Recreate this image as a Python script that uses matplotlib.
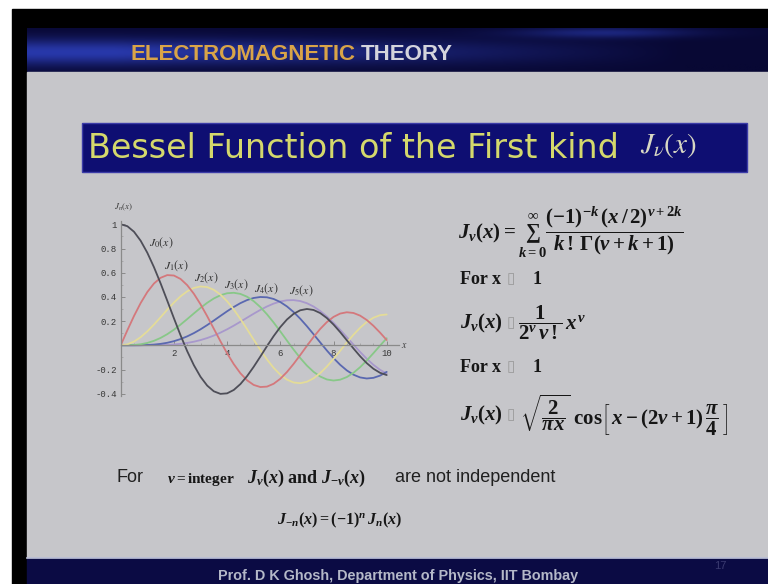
import numpy as np
import matplotlib
matplotlib.use('Agg')
import matplotlib.pyplot as plt
from matplotlib.patches import Rectangle

plt.rcParams['mathtext.fontset'] = 'custom'
plt.rcParams['mathtext.rm'] = 'Liberation Serif:bold'
plt.rcParams['mathtext.it'] = 'Liberation Serif:italic:bold'
plt.rcParams['mathtext.bf'] = 'Liberation Serif:bold'

# J_0 ... J_5 sampled every 0.25 on [0, 10]
x_vals = [0.0, 0.25, 0.5, 0.75, 1.0, 1.25, 1.5, 1.75, 2.0, 2.25, 2.5, 2.75, 3.0, 3.25,
          3.5, 3.75, 4.0, 4.25, 4.5, 4.75, 5.0, 5.25, 5.5, 5.75, 6.0, 6.25, 6.5, 6.75,
          7.0, 7.25, 7.5, 7.75, 8.0, 8.25, 8.5, 8.75, 9.0, 9.25, 9.5, 9.75, 10.0]
j0 = [1.0, 0.9844, 0.9385, 0.8642, 0.7652, 0.6459, 0.5118, 0.3690, 0.2239, 0.0827,
      -0.0484, -0.1641, -0.2601, -0.3328, -0.3801, -0.4014, -0.3971, -0.3692, -0.3205,
      -0.2551, -0.1776, -0.0931, -0.0068, 0.0760, 0.1506, 0.2131, 0.2601, 0.2895, 0.3001,
      0.2920, 0.2663, 0.2252, 0.1717, 0.1092, 0.0419, -0.0260, -0.0903, -0.1474, -0.1939,
      -0.2273, -0.2459]
j1 = [0.0, 0.1240, 0.2423, 0.3492, 0.4401, 0.5106, 0.5579, 0.5802, 0.5767, 0.5484,
      0.4971, 0.4260, 0.3391, 0.2411, 0.1374, 0.0332, -0.0660, -0.1555, -0.2311, -0.2892,
      -0.3276, -0.3450, -0.3414, -0.3179, -0.2767, -0.2207, -0.1538, -0.0803, -0.0047,
      0.0686, 0.1352, 0.1916, 0.2346, 0.2622, 0.2731, 0.2672, 0.2453, 0.2091, 0.1613,
      0.1048, 0.0435]
j2 = [0.0, 0.0078, 0.0306, 0.0671, 0.1149, 0.1711, 0.2321, 0.2940, 0.3528, 0.4047,
      0.4461, 0.4739, 0.4861, 0.4811, 0.4586, 0.4191, 0.3641, 0.2960, 0.2178, 0.1334,
      0.0466, -0.0384, -0.1173, -0.1866, -0.2429, -0.2837, -0.3074, -0.3133, -0.3014,
      -0.2731, -0.2303, -0.1758, -0.1130, -0.0456, 0.0224, 0.0870, 0.1448, 0.1926, 0.2279,
      0.2488, 0.2546]
j3 = [0.0, 0.0003, 0.0026, 0.0085, 0.0196, 0.0369, 0.0610, 0.0919, 0.1289, 0.1711,
      0.2166, 0.2634, 0.3091, 0.3510, 0.3868, 0.4138, 0.4302, 0.4341, 0.4247, 0.4015,
      0.3648, 0.3158, 0.2561, 0.1882, 0.1148, 0.0391, -0.0354, -0.1053, -0.1676, -0.2192,
      -0.2581, -0.2823, -0.2911, -0.2843, -0.2626, -0.2274, -0.1809, -0.1258, -0.0653,
      -0.0028, 0.0584]
j4 = [0.0, 0.0000, 0.0002, 0.0008, 0.0025, 0.0059, 0.0118, 0.0209, 0.0340, 0.0515,
      0.0738, 0.1007, 0.1320, 0.1669, 0.2044, 0.2430, 0.2811, 0.3168, 0.3484, 0.3737,
      0.3912, 0.3992, 0.3967, 0.3829, 0.3576, 0.3213, 0.2748, 0.2197, 0.1578, 0.0916,
      0.0238, -0.0428, -0.1054, -0.1611, -0.2075, -0.2430, -0.2655, -0.2743, -0.2690,
      -0.2505, -0.2196]
j5 = [0.0, 0.0000, 0.0000, 0.0001, 0.0002, 0.0007, 0.0018, 0.0038, 0.0070, 0.0121,
      0.0195, 0.0297, 0.0430, 0.0599, 0.0804, 0.1046, 0.1321, 0.1623, 0.1947, 0.2280,
      0.2611, 0.2926, 0.3209, 0.3446, 0.3621, 0.3721, 0.3736, 0.3656, 0.3479, 0.3204,
      0.2835, 0.2382, 0.1858, 0.1281, 0.0671, 0.0053, -0.0550, -0.1114, -0.1613, -0.2028,
      -0.2341]

curve_labels = [r'$J_0(x)$', r'$J_1(x)$', r'$J_2(x)$', r'$J_3(x)$', r'$J_4(x)$', r'$J_5(x)$']
label_x = [1.52, 2.1, 3.2, 4.33, 5.48, 6.8]
label_y = [0.845, 0.66, 0.56, 0.50, 0.47, 0.45]
x_ticks = [2, 4, 6, 8, 10]
y_ticks = [-0.4, -0.2, 0.2, 0.4, 0.6, 0.8, 1.0]
y_tick_labels = ['-0.4', '-0.2', '0.2', '0.4', '0.6', '0.8', '1']

colors = ['#4e4e58', '#d4787c', '#e4dc98', '#88c888', '#5a68b0', '#a898cc']

W, H = 768, 584
fig = plt.figure(figsize=(W / 100, H / 100), dpi=100, facecolor='white')

# slide drawn in pixel coordinates
bg = fig.add_axes([0, 0, 1, 1])
bg.axis('off')
bg.set_xlim(0, W)
bg.set_ylim(H, 0)

bg.add_patch(Rectangle((12, 9), W - 12, H - 9, color='black', zorder=0))

# header band: navy with a brighter streak
gx = np.linspace(0, 1, 300)
gy = np.linspace(0, 1, 60)
GX, GY = np.meshgrid(gx, gy)
streak = np.exp(-((GY - 0.55) / 0.3) ** 2) * np.clip(1.15 - GX * 1.3, 0, 1)
top_streak = np.exp(-((GY - 0.1) / 0.12) ** 2) * np.exp(-((GX - 0.78) / 0.12) ** 2) * 0.6
s = np.clip(streak + top_streak, 0, 1)
dark = np.array([8, 8, 52]) / 255
bright = np.array([40, 56, 170]) / 255
img = dark + (bright - dark) * s[..., None]
bg.imshow(img, extent=(27, W, 72, 28), aspect='auto', zorder=1, interpolation='bicubic')

bg.add_patch(Rectangle((27, 72), W - 27, 486, color='#c6c6ca', zorder=1))
bg.add_patch(Rectangle((27, 558), W - 27, 26, color='#0b0b44', zorder=1))
bg.plot([27, W], [558, 558], color='#c0c4dc', lw=1.2, zorder=2)

renderer = fig.canvas.get_renderer()


def fit_width(t, width):
    w = t.get_window_extent(renderer).width
    t.set_fontsize(t.get_fontsize() * width / w)
    return t


# header
t1 = bg.text(130, 55, 'ELECTROMAGNETIC', family=['Liberation Sans Narrow', 'Liberation Sans'],
             weight='bold', fontsize=20, color='#d9a448', va='center', zorder=3)
fit_width(t1, 225)
bg.text(361, 55, 'THEORY', family=['Liberation Sans Narrow', 'Liberation Sans'],
        weight='bold', fontsize=t1.get_fontsize(), color='#d4d4dc', va='center', zorder=3)

# title bar
bg.add_patch(Rectangle((82, 123), 665, 49, facecolor='#0e0e72',
                       edgecolor='#3c3ca8', lw=1, zorder=2))
tt = bg.text(88, 148, 'Bessel Function of the First kind', family='DejaVu Sans',
             fontsize=22, color='#d4d86c', va='center', ha='left', zorder=3)
fit_width(tt, 530)
bg.text(640, 146, r'$J_\nu(x)$', math_fontfamily='stix', fontsize=21,
        color='#d8d8c4', va='center', ha='left', zorder=3)

# formulas on the right
ink = '#161616'
box = '\u25af'
bg.text(458, 232, r'$J_\nu(x) = \sum_{k=0}^{\infty}\dfrac{(-1)^{-k}\,(x\,/\,2)^{\nu+2k}}'
        r'{k\,!\,\Gamma(\nu+k+1)}$', fontsize=15, color=ink, va='center', zorder=3)
for yy in (279, 367):
    bg.text(460, yy, 'For x', family='Liberation Serif', weight='bold',
            fontsize=13, color=ink, va='center', zorder=3)
    bg.text(507, yy, box, family='DejaVu Sans', fontsize=11, color='#9a9a9a',
            va='center', zorder=3)
    bg.text(533, yy, '1', family='Liberation Serif', weight='bold',
            fontsize=13, color=ink, va='center', zorder=3)
for yy, expr, xx in [(323, r'$\dfrac{1}{2^\nu\,\nu\,!}\,x^\nu$', 518),
                     (415, r'$\sqrt{\dfrac{2}{\pi x}}\;\mathrm{cos}\left[\,x-(2\nu+1)\,\dfrac{\pi}{4}\,\right]$', 520)]:
    bg.text(460, yy, r'$J_\nu(x)$', fontsize=15, color=ink, va='center', zorder=3)
    bg.text(507, yy, box, family='DejaVu Sans', fontsize=11, color='#9a9a9a',
            va='center', zorder=3)
    bg.text(xx, yy, expr, fontsize=15, color=ink, va='center', zorder=3)

# statement under the plot
bg.text(116, 478, 'For', family='Liberation Sans', fontsize=13, color='#202020',
        va='center', zorder=3)
bg.text(167, 479, r'$\nu = \mathrm{integer}$', fontsize=11, color=ink,
        va='center', zorder=3)
bg.text(247, 478, r'$J_\nu(x)\ \mathrm{and}\ J_{-\nu}(x)$', fontsize=13,
        color=ink, va='center', zorder=3)
bg.text(395, 478, 'are not independent', family='Liberation Sans', fontsize=13,
        color='#202020', va='center', zorder=3)
bg.text(277, 520, r'$J_{-n}(x) = (-1)^n\,J_n(x)$', fontsize=11.5, color=ink,
        va='center', zorder=3)

# footer
tf = bg.text(218, 576, 'Prof. D K Ghosh, Department of Physics, IIT Bombay',
             family=['Liberation Sans Narrow', 'Liberation Sans'], weight='bold',
             fontsize=11, color='#b4b8c8', ha='left', va='center', zorder=3)
fit_width(tf, 360)
bg.text(720, 566, '17', family='Liberation Sans', fontsize=8, color='#3a3a70',
        ha='center', va='center', zorder=3)

# Bessel plot
x_px0, y_px0 = 120.7, 345.3
ux, uy = 26.6, 121.0
xmin, xmax, ymin, ymax = 0.0, 10.45, -0.42, 1.05
left = x_px0 + xmin * ux
bottom = y_px0 - ymin * uy
ax = fig.add_axes([left / W, (H - bottom) / H,
                   (xmax - xmin) * ux / W, (ymax - ymin) * uy / H])
ax.set_facecolor('none')
ax.set_xlim(xmin, xmax)
ax.set_ylim(ymin, ymax)

for ys, c in zip([j5, j4, j3, j2, j1, j0], colors[::-1]):
    ax.plot(x_vals, ys, color=c, lw=1.3, solid_capstyle='round', solid_joinstyle='round')

for s, lx, ly in zip(curve_labels, label_x, label_y):
    ax.text(lx, ly, s, math_fontfamily='stix', fontsize=8.5, color='#303030',
            ha='center', va='center')

for side in ('top', 'right'):
    ax.spines[side].set_visible(False)
ax.spines['left'].set_position(('data', 0))
ax.spines['bottom'].set_position(('data', 0))
for side in ('left', 'bottom'):
    ax.spines[side].set_color('#8a8a8a')
    ax.spines[side].set_linewidth(0.9)
ax.spines['left'].set_bounds(ymin, ymax - 0.02)

ax.set_xticks(x_ticks)
ax.set_xticklabels([str(t) for t in x_ticks])
ax.set_yticks(y_ticks)
ax.set_yticklabels(y_tick_labels)
ax.set_xticks(np.arange(0.5, 10.01, 0.5), minor=True)
ax.set_yticks(np.arange(-0.4, 1.01, 0.1), minor=True)
ax.tick_params(which='major', direction='in', length=3, width=0.7, color='#8a8a8a',
               labelsize=6.5, labelcolor='#383838', pad=3)
ax.tick_params(which='minor', direction='in', length=1.5, width=0.5, color='#9a9a9a')
for lab in ax.get_xticklabels() + ax.get_yticklabels():
    lab.set_family('Liberation Mono')

ax.text(0.1, 1.135, r'$J_n(x)$', math_fontfamily='stix', fontsize=6.5,
        color='#383838', ha='center', va='center')
ax.text(10.65, 0.0, r'$x$', math_fontfamily='stix', fontsize=7,
        color='#383838', ha='center', va='center', clip_on=False)

fig.savefig('out.png', dpi=100, facecolor='white')
